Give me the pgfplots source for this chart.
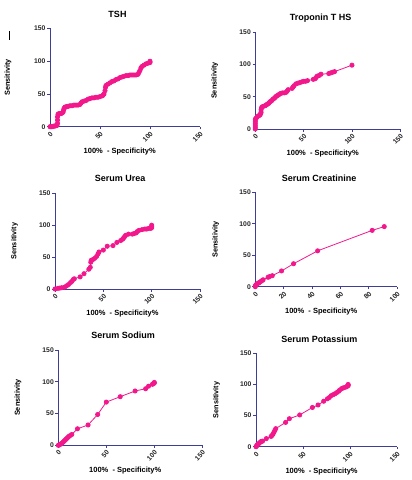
\documentclass[border=0pt]{standalone}
\usepackage{fontspec}
\setmainfont{Liberation Sans}
\usepackage{pgfplots}
\pgfplotsset{compat=1.18}
\definecolor{rocpink}{RGB}{242,24,140}
\definecolor{axnavy}{RGB}{62,62,150}
\pgfplotsset{
  rocax/.style={
    scale only axis, anchor=south west, clip=false,
    axis x line*=bottom, axis y line*=left,
    axis line style={-, draw=axnavy, line width=0.9pt},
    tick align=outside, major tick length=2.8pt,
    every tick/.style={draw=axnavy, line width=0.8pt},
    xmin=0, xmax=150, ymin=0, ymax=150,
    xtick={0,50,100,150}, ytick={0,50,100,150},
    enlargelimits=false,
    /pgf/number format/assume math mode=true,
    ticklabel style={font=\bfseries\fontsize{6.8}{7}\selectfont, text=black!85},
    xticklabel style={rotate=45, anchor=north east, inner sep=1pt},
    yticklabel style={inner sep=1.5pt},
    title style={at={(axis description cs:0.45,1)}, anchor=center, yshift=8.5pt, font=\bfseries\fontsize{9}{10}\selectfont},
    xlabel={100\%\ \ - Specificity\%},
    ylabel={Sensitivity},
    xlabel style={at={(axis description cs:0.465,0)}, anchor=center, yshift=-25pt, font=\bfseries\fontsize{7.5}{8}\selectfont},
    ylabel style={at={(axis description cs:-0.28,0.5)}, anchor=center, rotate=0, font=\bfseries\fontsize{7.3}{8}\selectfont},
  },
  rocline/.style={color=rocpink, line width=0.8pt, mark=*, mark size=2.1pt, mark options={fill=rocpink, draw=rocpink}},
}
\begin{document}
\begin{tikzpicture}
\useasboundingbox (0,0) rectangle (412pt,480pt);
\draw[black, line width=0.9pt] (9.5pt,449pt) -- (9.5pt,440pt);
% TSH
\begin{axis}[rocax, at={(50pt,353.3pt)}, width=150pt, height=98.2pt, title={TSH}]
\addplot[rocline] coordinates {
(0,0)(1,0)(2,0)(3,0.5)(4,1)(5,1)(6,1.5)(7,2)(7.5,5)(7.5,10)(7.5,15)(8,19)(9,20)(10,20)(11,20)(12,21)(13,22)(13.5,25)(14,28)(15,30)(16,30)(17,31)(18,31)(20,32)(22,32)(24,33)(26,33)(28,33)(30,34)(31,36)(32,38)(34,39)(36,40)(38,42)(40,43)(42,44)(44,44)(46,45)(48,45)(50,46)(52,47)(53,48)(54,50)(55,55)(55.5,60)(56,63)(58,65)(60,67)(62,69)(64,70)(66,72)(68,73)(70,75)(72,76)(74,77)(76,78)(78,78)(80,79)(82,79)(84,79)(86,79)(88,80)(89,83)(90,86)(91,90)(92,92)(94,94)(96,96)(98,97)(100,98)(100,100)
};
\end{axis}
% Troponin
\begin{axis}[rocax, at={(255.3pt,351pt)}, width=145pt, height=96.7pt, title={Troponin T HS}]
\addplot[rocline] coordinates {
(0,0)(0,3)(0,6)(0,9)(0,12)(0,15)(0.5,16)(1,17)(2,19)(3,20)(4,21)(5,22)(5.5,24)(6,26)(6,30)(6.5,33)(7,34)(8,35)(10,36)(11,37)(12,38)(13,39)(14,40)(15,42)(16,43)(17,44)(18,46)(19,47)(20,48)(21,50)(22,51)(23,52)(24,53)(25,54)(26,55)(28,56)(30,56)(32,57)(33,59)(34,61)(38,63)(39,65)(40,67)(42,70)(44,71)(46,72)(48,73)(50,74)(52,74)(54,75)(60,77)(62,78)(63,80)(64,82)(66,83)(68,85)(76,86)(78,87)(80,88)(82,89)(100,99)
};
\end{axis}
% Urea
\begin{axis}[rocax, at={(55pt,191pt)}, width=145pt, height=95.7pt, title={Serum Urea}]
\addplot[rocline] coordinates {
(0,0)(3,1)(5,1.5)(7,2)(10,3)(12,5)(14,7)(16,10)(17.5,12)(19,15)(20,16)(26,19)(30,24)(35,31)(36.5,34)(37,42)(37.5,45)(39,46)(41,48)(43,51)(44.5,55)(45.5,58)(50,61)(54,67)(60,68)(64,73)(68,76)(70,78)(71,80)(72,82)(73,84)(76,86)(80,86)(82,87)(84,88)(85,90)(87,92)(90,93)(93,94)(95,94)(97,95)(99,95)(100,96)(100,98)(100,100)
};
\end{axis}
% Creatinine
\begin{axis}[rocax, at={(255.3pt,193.3pt)}, width=141.7pt, height=94.4pt, title={Serum Creatinine}, xmax=100, xtick={0,20,40,60,80,100}]
\addplot[rocline] coordinates {
(0,0)(0,1.5)(0.5,3)(1,4)(1.5,5)(2.5,6)(3,7)(4,8.5)(5,10)(5.5,11)(9,15)(10,16)(12,17.5)(18.5,25)(27,36.5)(44,57)(82.5,89.5)(91,95.5)
};
\end{axis}
% Sodium
\begin{axis}[rocax, at={(58.3pt,34.7pt)}, width=144pt, height=95.3pt, title={Serum Sodium}]
\addplot[rocline] coordinates {
(0,0)(1,0.5)(2,1.5)(3,2.5)(4,3.5)(5,5)(6,6.5)(7,8)(8,9.5)(9,11)(10,12.5)(11,14)(12,15)(14,17)(20,26)(31,32)(41,48.5)(50,68)(64.5,76.5)(80,85.5)(91,89)(94,93)(98,96)(99,97)(100,98)(100,99)
};
\end{axis}
% Potassium
\begin{axis}[rocax, at={(256pt,33.3pt)}, width=141pt, height=93.4pt, title={Serum Potassium}]
\addplot[rocline] coordinates {
(0,0)(0.5,1)(1,2)(1.5,3)(2,4)(3,5)(4,6.5)(5,8)(6,8.5)(7,9)(11,13)(16,16.5)(17,18)(18,20)(19,23)(20,26)(21,29)(31.5,39)(35.5,45)(46.5,51)(60,63)(66,67)(72,73)(76,77)(78,79)(80,82)(82,83.5)(84,85)(86,87)(88,89)(89,91)(91,93)(92,94)(94,95)(96,96)(97,97)(98,98)(98,99)(98,100)
};
\end{axis}
\end{tikzpicture}
\end{document}
